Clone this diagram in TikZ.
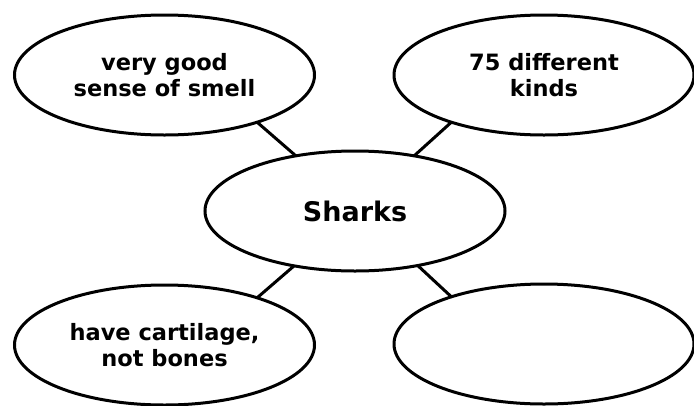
\documentclass[tikz,border=0pt]{standalone}
\usepackage{fontspec}
\setmainfont{DejaVu Sans}
\usetikzlibrary{shapes.geometric}
\begin{document}
\begin{tikzpicture}[x=1pt,y=-1pt,
  bubble/.style={ellipse,draw=black,line width=3pt,fill=white,minimum width=300pt,minimum height=120pt,inner sep=0pt,outer sep=0pt,align=center,font=\fontsize{22.5}{25.5}\selectfont\bfseries},
  link/.style={line width=3pt,black}]
\useasboundingbox (0,0) rectangle (694,405);
\node[bubble] (tl) at (164.5,75) {very good\\sense of smell};
\node[bubble] (tr) at (544,75) {75 different\\kinds};
\node[bubble,font=\fontsize{27}{30}\selectfont\bfseries] (c) at (355,211) {Sharks};
\node[bubble] (bl) at (164.5,345) {have cartilage,\\not bones};
\node[bubble] (br) at (544,344) {};
\draw[link] (tl.-27) -- (c.137);
\draw[link] (tr.-153) -- (c.43);
\draw[link] (bl.27) -- (c.-138);
\draw[link] (br.153) -- (c.-41);
\end{tikzpicture}
\end{document}
